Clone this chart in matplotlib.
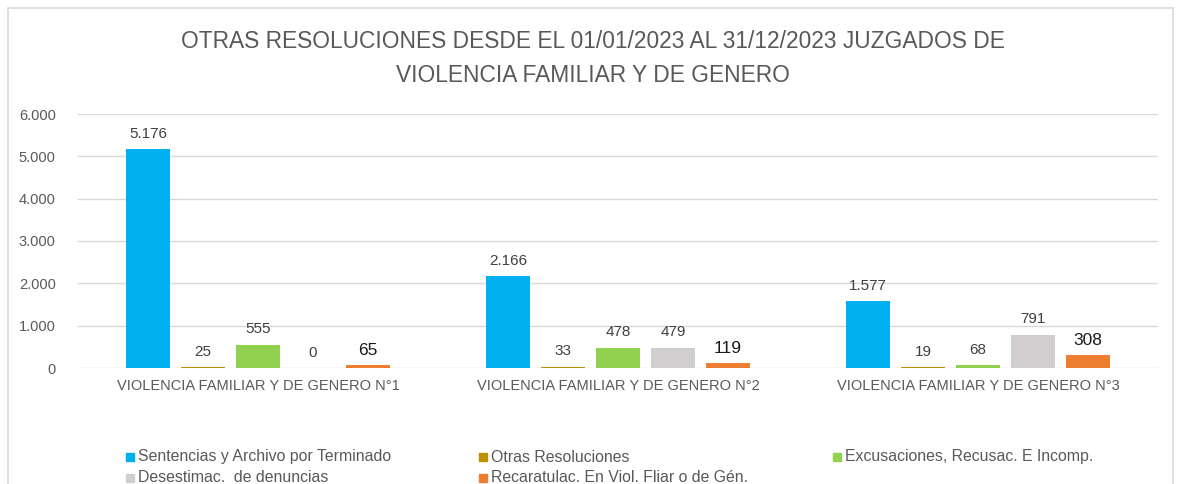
import numpy as np
import matplotlib.pyplot as plt
from matplotlib.patches import Rectangle
from matplotlib.ticker import FuncFormatter

plt.rcParams['font.family'] = ['Liberation Sans', 'DejaVu Sans']

# data
juzgados = ['VIOLENCIA FAMILIAR Y DE GENERO N°1',
            'VIOLENCIA FAMILIAR Y DE GENERO N°2',
            'VIOLENCIA FAMILIAR Y DE GENERO N°3']
series_names = ['Sentencias y Archivo por Terminado',
                'Otras Resoluciones',
                'Excusaciones, Recusac. E Incomp.',
                'Desestimac.  de denuncias',
                'Recaratulac. En Viol. Fliar o de Gén.']
sentencias = [5176, 2166, 1577]
otras = [25, 33, 19]
excusaciones = [555, 478, 68]
desestimac = [0, 479, 791]
recaratulac = [65, 119, 308]
colors = ['#00B0F0', '#BF9000', '#92D050', '#D0CECE', '#ED7D31']

series = [sentencias, otras, excusaciones, desestimac, recaratulac]

def miles(v):
    return f'{int(v):,}'.replace(',', '.')

fig = plt.figure(figsize=(11.85, 4.84), dpi=100)
fig.patches.append(Rectangle((8 / 1185, -0.1), (1173 - 8) / 1185, 1 - 8 / 484 + 0.1,
                             transform=fig.transFigure, fill=False,
                             edgecolor='#d9d9d9', linewidth=1.2))

ax = fig.add_axes([78 / 1185, 1 - 368 / 484, (1158 - 78) / 1185, (368 - 114) / 484])

x = np.arange(len(juzgados))
slot = 55 / 360
width = 44 / 360
for i, (vals, name, col) in enumerate(zip(series, series_names, colors)):
    pos = x + (i - 2) * slot
    bars = ax.bar(pos, vals, width, color=col, label=name, zorder=3)
    for b, v in zip(bars, vals):
        if i == 4:
            ax.annotate(miles(v), (b.get_x() + b.get_width() / 2, v), xytext=(0, 5),
                        textcoords='offset points', ha='center', va='bottom',
                        fontsize=12.5, color='#1a1a1a')
        else:
            ax.annotate(miles(v), (b.get_x() + b.get_width() / 2, v), xytext=(0, 6),
                        textcoords='offset points', ha='center', va='bottom',
                        fontsize=11, color='#404040')

ax.set_xlim(-0.5, 2.5)
ax.set_ylim(0, 6000)
ax.set_yticks(range(0, 6001, 1000))
ax.yaxis.set_major_formatter(FuncFormatter(lambda v, p: miles(v)))
ax.set_xticks(x)
ax.set_xticklabels(juzgados)
ax.tick_params(axis='both', length=0, labelsize=10.5, colors='#595959')
ax.tick_params(axis='y', pad=16)
ax.tick_params(axis='x', pad=8)
ax.grid(axis='y', color='#d9d9d9', linewidth=1, zorder=0)
for s in ax.spines.values():
    s.set_visible(False)

fig.text(593 / 1185, 1 - 42 / 484, 'OTRAS RESOLUCIONES DESDE EL 01/01/2023 AL 31/12/2023 JUZGADOS DE',
         ha='center', va='center', fontsize=16.4, color='#595959')
fig.text(593 / 1185, 1 - 75 / 484, 'VIOLENCIA FAMILIAR Y DE GENERO',
         ha='center', va='center', fontsize=16.4, color='#595959')

# legend, row-major, drawn by hand
leg_x = [138, 491, 845]
leg_y = [457, 478]
for k, (name, col) in enumerate(zip(series_names, colors)):
    r, c = divmod(k, 3)
    lx, ly = leg_x[c], leg_y[r]
    fig.patches.append(Rectangle(((lx - 12) / 1185, 1 - (ly + 4) / 484), 8 / 1185, 8 / 484,
                                 transform=fig.transFigure, color=col))
    fig.text(lx / 1185, 1 - ly / 484, name, ha='left', va='center',
             fontsize=11.4, color='#595959')

fig.savefig('out.png', dpi=100)
